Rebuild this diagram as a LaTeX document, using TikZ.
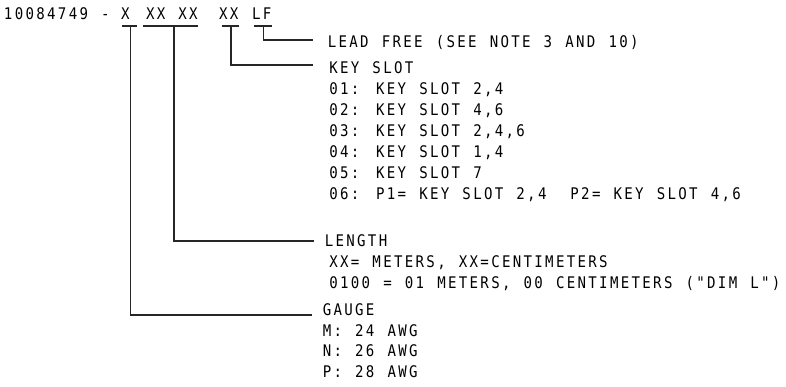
\documentclass[tikz,border=0pt]{standalone}
\usepackage{fontspec}
\newfontfamily\cadfont[LetterSpace=14.5,FakeStretch=0.88]{DejaVu Sans Mono}
\newcommand{\cadtext}{\cadfont\fontsize{16}{21}\selectfont\spaceskip=13.12pt\relax}
\begin{document}
\begin{tikzpicture}[x=1pt,y=-1pt,
  txt/.style={anchor=base west, inner sep=0pt, outer sep=0pt, font=\cadtext},
  ln/.style={line width=1.1pt, draw=black!85}]
\useasboundingbox (0,0) rectangle (786,387);
% part number
\node[txt] (pn) at (4,19.5) {10084749 -};
\node[txt] (cX) at (121,19.5) {X};
\node[txt] (cL) at (146,19.5) {XX XX};
\node[txt] (cK) at (219,19.5) {XX};
\node[txt] (cF) at (252,19.5) {LF};
% lead free
\node[txt] (lf) at (327.8,47.5) {LEAD FREE (SEE NOTE 3 AND 10)};
% key slot
\node[txt] (ks0) at (329.3,73.5) {KEY SLOT};
\node[txt] (ks1) at (329.3,94.5) {01: KEY SLOT 2,4};
\node[txt] (ks2) at (329.3,115.5) {02: KEY SLOT 4,6};
\node[txt] (ks3) at (329.3,136.5) {03: KEY SLOT 2,4,6};
\node[txt] (ks4) at (329.3,157.5) {04: KEY SLOT 1,4};
\node[txt] (ks5) at (329.3,178.5) {05: KEY SLOT 7};
\node[txt] (ks6) at (329.3,199.5) {06: P1= KEY SLOT 2,4\hspace{10.8pt} P2= KEY SLOT 4,6};
% length
\node[txt] (le0) at (324.8,246.5) {LENGTH};
\node[txt] (le1) at (329.3,267.5) {XX= METERS, XX=CENTIMETERS};
\node[txt] (le2) at (329.3,288.5) {0100 = 01 METERS, 00 CENTIMETERS ("DIM L")};
% gauge
\node[txt] (ga0) at (322.8,315.5) {GAUGE};
\node[txt] (ga1) at (322.8,336) {M: 24 AWG};
\node[txt] (ga2) at (322.8,356.5) {N: 26 AWG};
\node[txt] (ga3) at (322.8,377) {P: 28 AWG};
% underline coordinates
\coordinate (uX1) at (122,26);   \coordinate (uX2) at (137,26);   \coordinate (dX) at (130.5,26);
\coordinate (uL1) at (143,26);   \coordinate (uL2) at (198,26);   \coordinate (dL) at (174,26);
\coordinate (uK1) at (221.5,26); \coordinate (uK2) at (238.5,26); \coordinate (dK) at (231,26);
\coordinate (uF1) at (254,26);   \coordinate (uF2) at (271.5,26); \coordinate (dF) at (263.5,26);
% leader ends
\coordinate (eF) at (313,40);
\coordinate (eK) at (313,65);
\coordinate (eL) at (314,241);
\coordinate (eX) at (312,315);
\draw[ln] (uX1) -- (uX2);
\draw[ln] (uL1) -- (uL2);
\draw[ln] (uK1) -- (uK2);
\draw[ln] (uF1) -- (uF2);
\draw[ln] (dF) |- (eF);
\draw[ln] (dK) |- (eK);
\draw[ln] (dL) |- (eL);
\draw[ln] (dX) |- (eX);
\end{tikzpicture}
\end{document}
